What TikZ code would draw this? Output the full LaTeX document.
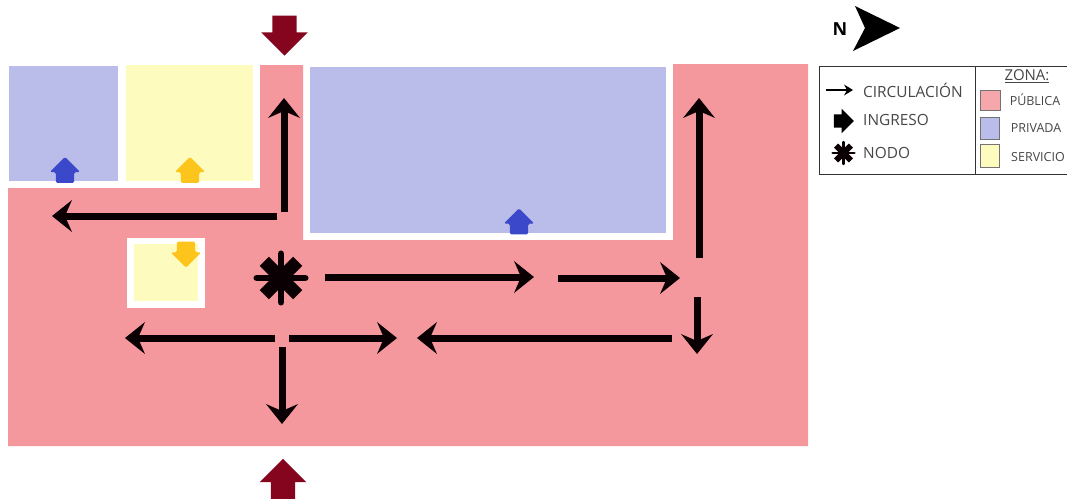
\documentclass[tikz,border=0pt]{standalone}
\usepackage{fontspec}
\setmainfont{Open Sans}
\usetikzlibrary{arrows.meta,shapes.arrows}
\definecolor{pubc}{HTML}{F5989D}
\definecolor{privc}{HTML}{BABDE9}
\definecolor{servc}{HTML}{FEFBBE}
\definecolor{redc}{HTML}{85051F}
\definecolor{bluec}{HTML}{3B48C9}
\definecolor{yelc}{HTML}{FDC41C}
\definecolor{inkc}{HTML}{0A0003}
\tikzset{
 flow/.style={draw=inkc,line width=7pt,-{Stealth[length=20pt,width=32pt,inset=7pt,line width=0pt]}},
 blockarrow/.style={single arrow,draw=none,inner xsep=0pt,outer sep=0pt,single arrow head indent=0pt,anchor=center},
 bigarrow/.style={blockarrow,fill=redc,minimum height=40pt,inner ysep=12pt,single arrow head extend=11pt},
 smallarrow/.style={blockarrow,rounded corners=1.5pt,minimum height=26pt,inner ysep=9pt,single arrow head extend=6pt},
 legtext/.style={inner sep=0pt,anchor=west,font=\fontsize{15.4}{17}\selectfont,text=black!72},
 zonetext/.style={inner sep=0pt,font=\fontsize{12.5}{14}\selectfont,text=black!72},
 swatch/.style={draw=black!55,line width=.8pt},
 pics/asterisk/.style={code={
   \fill[inkc] (0,0) circle[radius=#1*.45pt];
   \draw[line width=#1*.24pt,line cap=round,inkc] (-#1*.9pt,0)--(#1*.9pt,0) (0,-#1*.9pt)--(0,#1*.9pt);
   \draw[line width=#1*.48pt,inkc] (-#1*.62pt,-#1*.62pt)--(#1*.62pt,#1*.62pt) (-#1*.62pt,#1*.62pt)--(#1*.62pt,-#1*.62pt);
 }}
}
\begin{document}
\begin{tikzpicture}[x=1pt,y=-1pt]
\useasboundingbox[fill=white] (0,0) rectangle (1067,499);
% zones
\fill[pubc] (8,188)--(260,188)--(260,65)--(303,65)--(303,240)--(673,240)--(673,64)--(808,64)--(808,446)--(8,446)--cycle;
\fill[privc] (9,66) rectangle (118,181);
\fill[servc] (126,65) rectangle (253,181);
\fill[privc] (310,67) rectangle (666,233);
\fill[white] (127,238) rectangle (205,308);
\fill[servc] (134,244) rectangle (198,301);
% entries
\node[bigarrow,rotate=-90] (inN) at (284.5,29.5) {};
\node[bigarrow,rotate=90] (inS) at (283,485) {};
\node[smallarrow,fill=bluec,rotate=90] (inA) at (65,174.5) {};
\node[smallarrow,fill=yelc,rotate=90] (inB) at (190,174.5) {};
\node[smallarrow,fill=yelc,rotate=-90] (inC) at (186,250) {};
\node[smallarrow,fill=bluec,rotate=90] (inD) at (519,226) {};
% circulation
\coordinate (a1) at (284,212); \coordinate (a1e) at (284,98);
\coordinate (a2) at (277,216); \coordinate (a2e) at (52,216);
\coordinate (a3) at (325,277); \coordinate (a3e) at (534,277);
\coordinate (a4) at (558,278); \coordinate (a4e) at (680,278);
\coordinate (a5) at (699,258); \coordinate (a5e) at (699,98);
\coordinate (a6) at (697,297); \coordinate (a6e) at (697,354);
\coordinate (a7) at (672,338); \coordinate (a7e) at (417,338);
\coordinate (a8) at (275,338); \coordinate (a8e) at (125,338);
\coordinate (a9) at (289,338); \coordinate (a9e) at (397,338);
\coordinate (a10) at (282,347); \coordinate (a10e) at (282,424);
\foreach \s/\e in {a1/a1e,a2/a2e,a3/a3e,a4/a4e,a5/a5e,a6/a6e,a7/a7e,a8/a8e,a9/a9e,a10/a10e}
  \draw[flow] (\s)--(\e);
\pic (nodeA) at (281,278) {asterisk=27};
% north
\node[inner sep=0pt,font=\bfseries\fontsize{18}{20}\selectfont] (north) at (840,29) {N};
\fill[black] (855,6)--(900,28)--(853,51)--(865,28)--cycle;
% legend
\draw[line width=.8pt,black!80] (1067,66)--(819,66)--(819,174)--(1067,174);
\draw[line width=.8pt,black!80] (975,66)--(975,174);
\coordinate (l1) at (826,90); \coordinate (l1e) at (853,90);
\draw[draw=black,line width=2pt,-{Stealth[length=9pt,width=11pt,inset=3pt,line width=0pt]}] (l1)--(l1e);
\node[legtext] (t1) at (863,90) {CIRCULACIÓN};
\node[blockarrow,fill=black,minimum height=20pt,inner ysep=6.5pt,single arrow head extend=5.5pt] (l2) at (840.5,121) {};
\node[legtext] (t2) at (863,120) {INGRESO};
\pic (l3) at (843.5,153) {asterisk=12};
\node[legtext] (t3) at (863,153) {NODO};
\node[inner sep=0pt,font=\fontsize{15}{17}\selectfont,text=black!72] (z) at (1027,76) {\underline{ZONA:}};
\draw[swatch,fill=pubc!85!white] (980,90) rectangle (1000,110);
\draw[swatch,fill=privc] (980,117) rectangle (999,139);
\draw[swatch,fill=servc] (980,144) rectangle (999,167);
\node[zonetext] (z1) at (1035,100) {PÚBLICA};
\node[zonetext] (z2) at (1036,128) {PRIVADA};
\node[zonetext] (z3) at (1038,157) {SERVICIO};
\end{tikzpicture}
\end{document}
